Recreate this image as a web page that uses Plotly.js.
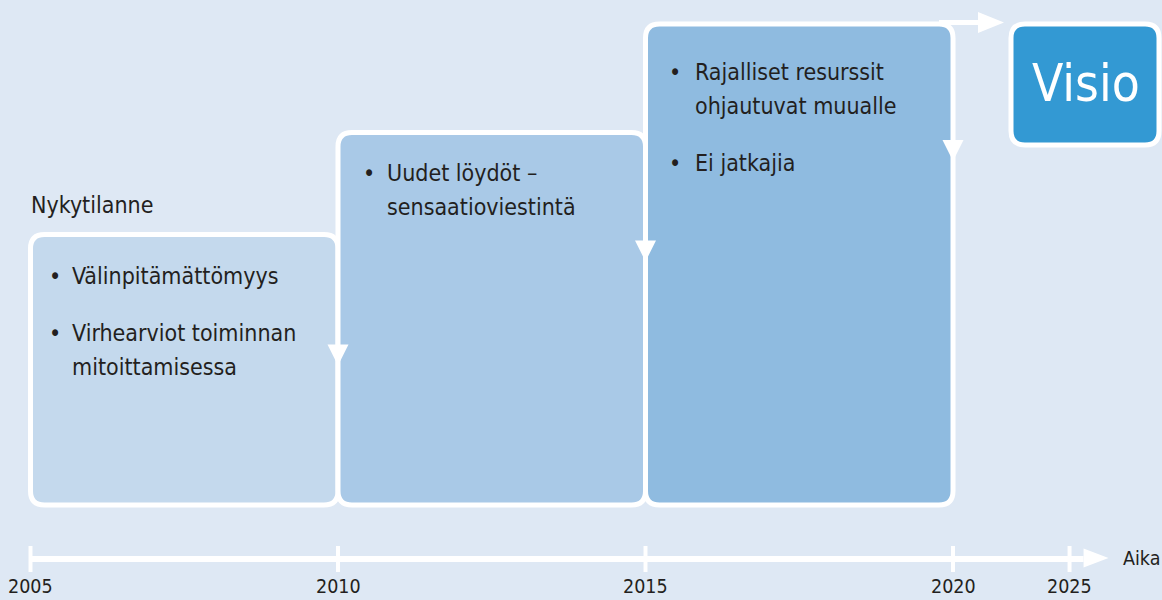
<!DOCTYPE html>
<html><head><meta charset="utf-8">
<script src="https://cdn.plot.ly/plotly-3.0.1.min.js"></script>
<style>html,body{margin:0;padding:0;background:#dee8f4;}</style>
</head><body><div id="chart" style="width:1162px;height:600px;"></div>
<script>
// ---------------- data ----------------
const stageStart = [2005, 2010, 2015];
const stageEnd   = [2010, 2015, 2020];
const stageLevel = [270.5, 372.5, 481];
const stageTitle = 'Nykytilanne';
const stageBullets = [
  [['Välinpitämättömyys'], ['Virhearviot toiminnan', 'mitoittamisessa']],
  [['Uudet löydöt –', 'sensaatioviestintä']],
  [['Rajalliset resurssit', 'ohjautuvat muualle'], ['Ei jatkajia']]
];
const tickYears = [2005, 2010, 2015, 2020, 2025];
const tickLabels = ['2005', '2010', '2015', '2020', '2025'];
const axisName = 'Aika';
const visionLabel = 'Visio';

// ---------------- styles / layout ----------------
const FONT = '"Liberation Sans Narrow", "Arial Narrow", "DejaVu Sans Condensed", sans-serif';
const BG = '#dee8f4';
const boxFill = ['#c4d9ed', '#a9c9e7', '#8fbbe0'];
const visionFill = '#3399d3';
const TXT = '#231f20';
const PX = 61.5;                 // pixels per year
const X0 = 2005 - 30.5 / PX;     // left edge of the axis range
const X1 = X0 + 1162 / PX;
const BORDER = 5, R = 14;
// the axis is compressed after 2020
function xPos(year) { return year <= 2020 ? year : 2020 + (year - 2020) * 0.379; }
const dx = p => p / PX;          // pixel width -> x units

function roundRect(x0, x1, y0, y1, r) {
  const rx = dx(r), ry = r;
  return `M${x0 + rx},${y1} L${x1 - rx},${y1} Q${x1},${y1} ${x1},${y1 - ry} L${x1},${y0 + ry} Q${x1},${y0} ${x1 - rx},${y0} L${x0 + rx},${y0} Q${x0},${y0} ${x0},${y0 + ry} L${x0},${y1 - ry} Q${x0},${y1} ${x0 + rx},${y1} Z`;
}
function triDown(x, yTop, w, h) {
  return `M${x - dx(w / 2)},${yTop} L${x + dx(w / 2)},${yTop} L${x},${yTop - h} Z`;
}
function triRight(xBase, y, w, h) {
  return `M${xBase},${y + h / 2} L${xBase + dx(w)},${y} L${xBase},${y - h / 2} Z`;
}

const shapes = [];
const annotations = [];
const white = '#ffffff';

// stage boxes
stageStart.forEach((s, i) => {
  shapes.push({type: 'path', xref: 'x', yref: 'y', path: roundRect(s, stageEnd[i], 0, stageLevel[i], R),
    fillcolor: boxFill[i], line: {color: white, width: BORDER}, layer: 'above'});
});
// down arrows on the right edge of each stage
const arrowDrop = [110, 108, 116];
stageStart.forEach((s, i) => {
  shapes.push({type: 'path', xref: 'x', yref: 'y', path: triDown(stageEnd[i], stageLevel[i] - arrowDrop[i], 21, 21),
    fillcolor: white, line: {width: 0}, layer: 'above'});
});
// vision box
const vx0 = 2020 + dx(58), vx1 = 2020 + dx(206);
const vTop = stageLevel[2], vBot = 360;
shapes.push({type: 'path', xref: 'x', yref: 'y', path: roundRect(vx0, vx1, vBot, vTop, R),
  fillcolor: visionFill, line: {color: white, width: BORDER}, layer: 'above'});
// arrow from last stage to vision
const aY = vTop + 1.5;
shapes.push({type: 'line', xref: 'x', yref: 'y', x0: stageEnd[2] - dx(R), x1: vx0 - dx(30), y0: aY, y1: aY,
  line: {color: white, width: BORDER}, layer: 'above'});
shapes.push({type: 'path', xref: 'x', yref: 'y', path: triRight(vx0 - dx(33), aY, 26, 21),
  fillcolor: white, line: {width: 0}, layer: 'above'});

// timeline
const tlY = -54;
const tlEnd = xPos(tickYears[tickYears.length - 1]) + dx(14);
shapes.push({type: 'line', xref: 'x', yref: 'y', x0: tickYears[0], x1: tlEnd, y0: tlY, y1: tlY,
  line: {color: white, width: 6}, layer: 'above'});
shapes.push({type: 'path', xref: 'x', yref: 'y', path: triRight(tlEnd, tlY + 1, 25, 19),
  fillcolor: white, line: {width: 0}, layer: 'above'});
tickYears.forEach(yv => {
  shapes.push({type: 'line', xref: 'x', yref: 'y', x0: xPos(yv), x1: xPos(yv), y0: tlY + 13, y1: tlY - 13,
    line: {color: white, width: 4}, layer: 'above'});
});

// texts
const BODY = 23;
annotations.push({xref: 'x', yref: 'y', x: stageStart[0] - dx(2), y: stageLevel[0] + 30, text: stageTitle,
  showarrow: false, xanchor: 'left', yanchor: 'middle', font: {family: FONT, size: BODY, color: TXT}});

const bulletIndent = [24, 31, 29], textIndent = [39, 47, 47], firstOffset = [41, 40, 48];
const lineGap = 34, bulletGap = 23;
stageBullets.forEach((bullets, i) => {
  let y = stageLevel[i] - firstOffset[i];
  bullets.forEach(lines => {
    annotations.push({xref: 'x', yref: 'y', x: stageStart[i] + dx(bulletIndent[i]), y: y, text: '•',
      showarrow: false, xanchor: 'center', yanchor: 'middle', font: {family: FONT, size: BODY, color: TXT}});
    lines.forEach(t => {
      annotations.push({xref: 'x', yref: 'y', x: stageStart[i] + dx(textIndent[i]), y: y, text: t,
        showarrow: false, xanchor: 'left', yanchor: 'middle', font: {family: FONT, size: BODY, color: TXT}});
      y -= lineGap;
    });
    y -= bulletGap;
  });
});
annotations.push({xref: 'x', yref: 'y', x: (vx0 + vx1) / 2 + dx(1), y: (vTop + vBot) / 2 + 1, text: visionLabel,
  showarrow: false, xanchor: 'center', yanchor: 'middle', font: {family: FONT, size: 51, color: white}});
annotations.push({xref: 'x', yref: 'y', x: tlEnd + dx(37), y: tlY + 1, text: axisName,
  showarrow: false, xanchor: 'left', yanchor: 'middle', font: {family: FONT, size: 19.5, color: TXT}});
tickYears.forEach((yv, i) => {
  annotations.push({xref: 'x', yref: 'y', x: xPos(yv), y: -94.5, text: tickLabels[i],
    showarrow: false, xanchor: 'center', yanchor: 'bottom', font: {family: FONT, size: 19.5, color: TXT}});
});

const layout = {
  width: 1162, height: 600,
  margin: {l: 0, r: 0, t: 0, b: 0},
  paper_bgcolor: BG, plot_bgcolor: BG,
  showlegend: false,
  xaxis: {range: [X0, X1], visible: false, fixedrange: true},
  yaxis: {range: [-95, 505], visible: false, fixedrange: true},
  shapes: shapes,
  annotations: annotations
};
Plotly.newPlot('chart', [{x: [X0], y: [0], type: 'scatter', mode: 'markers', marker: {opacity: 0}, hoverinfo: 'skip'}],
  layout, {staticPlot: true, displayModeBar: false});
</script></body></html>
